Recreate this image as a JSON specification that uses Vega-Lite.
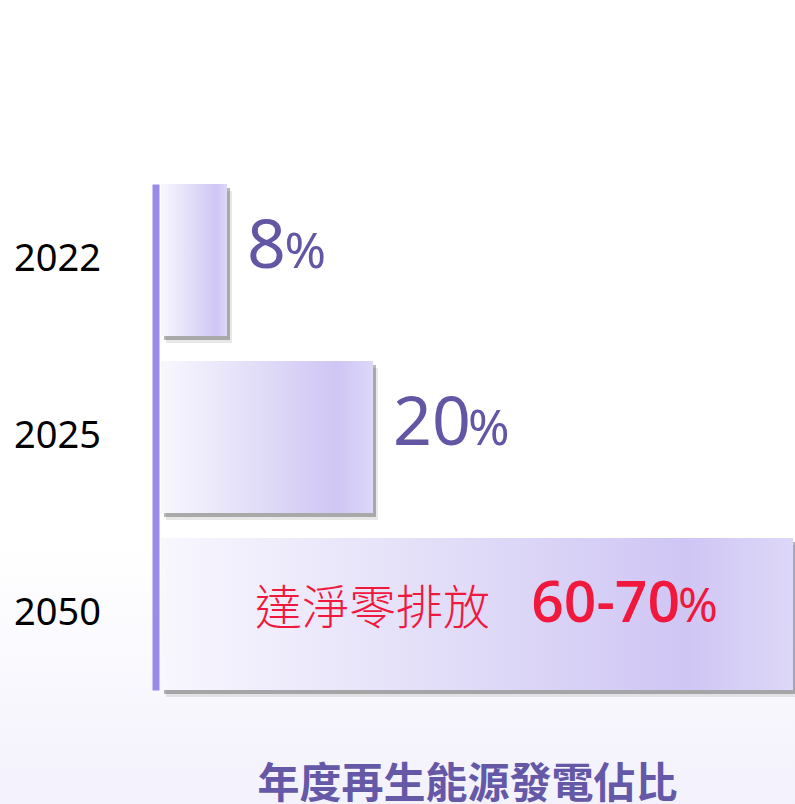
{
  "$schema": "https://vega.github.io/schema/vega-lite/v6.json",
  "width": 795,
  "height": 804,
  "autosize": {"type": "none"},
  "padding": 0,
  "background": "white",
  "config": {"view": {"stroke": null}},
  "title": {
    "text": "年度再生能源發電佔比",
    "orient": "bottom",
    "anchor": "middle",
    "offset": -6,
    "baseline": "alphabetic",
    "dx": 70,
    "font": "Noto Sans CJK TC",
    "fontSize": 42,
    "fontWeight": "bold",
    "color": "#6458a7"
  },
  "datasets": {
    "bars": [
      {"year": "2022", "value": 8, "num": "8", "note": ""},
      {"year": "2025", "value": 20, "num": "20", "note": ""},
      {"year": "2050", "value": 65, "num": "60-70", "note": "達淨零排放"}
    ]
  },
  "layer": [
    {
      "data": {"values": [{}]},
      "mark": {
        "type": "rect",
        "color": {
          "gradient": "linear",
          "x1": 0, "y1": 0, "x2": 0, "y2": 1,
          "stops": [
            {"offset": 0, "color": "#ffffff"},
            {"offset": 0.68, "color": "#ffffff"},
            {"offset": 1, "color": "#f3f1fc"}
          ]
        }
      },
      "encoding": {}
    },
    {
      "data": {"name": "bars"},
      "mark": {"type": "bar", "color": "#6e6e6e", "opacity": 0.16, "xOffset": 5, "x2Offset": 8, "yOffset": 7, "y2Offset": 9},
      "encoding": {
        "y": {
          "field": "year", "type": "nominal",
          "scale": {"range": [184, 690], "paddingInner": 0.141, "paddingOuter": 0},
          "axis": {
            "title": null,
            "offset": -155.5,
            "zindex": 2,
            "ticks": false,
            "tickSize": 0,
            "domainColor": "#9a8ae9",
            "domainWidth": 7,
            "labelPadding": 55,
            "labelFont": "Noto Sans",
            "labelFontSize": 38,
            "labelColor": "#000000",
            "grid": false
          }
        },
        "x": {"field": "value", "type": "quantitative", "scale": {"domain": [0, 8, 20, 65], "range": [161, 227, 373, 793], "nice": false}, "axis": null}
      }
    },
    {
      "data": {"name": "bars"},
      "mark": {"type": "bar", "color": "#4a4a4a", "opacity": 0.4, "xOffset": 3, "x2Offset": 4, "yOffset": 4, "y2Offset": 5},
      "encoding": {
        "y": {"field": "year", "type": "nominal"},
        "x": {"field": "value", "type": "quantitative"}
      }
    },
    {
      "data": {"name": "bars"},
      "mark": {
        "type": "bar",
        "color": {
          "gradient": "linear",
          "x1": 0, "y1": 0, "x2": 1, "y2": 0,
          "stops": [
            {"offset": 0, "color": "#f8f7fe"},
            {"offset": 0.45, "color": "#e2ddf8"},
            {"offset": 0.83, "color": "#cfc6f4"},
            {"offset": 1, "color": "#ddd7f8"}
          ]
        }
      },
      "encoding": {
        "y": {"field": "year", "type": "nominal"},
        "x": {"field": "value", "type": "quantitative"}
      }
    },
    {
      "data": {"name": "bars"},
      "transform": [{"filter": "datum.year != '2050'"}],
      "mark": {"type": "text", "align": "left", "baseline": "alphabetic", "dx": 20, "dy": 8, "font": "Noto Sans", "fontSize": 68, "color": "#6256a5"},
      "encoding": {
        "y": {"field": "year", "type": "nominal"},
        "x": {"field": "value", "type": "quantitative"},
        "text": {"field": "num"}
      }
    },
    {
      "data": {"name": "bars"},
      "transform": [{"filter": "datum.year != '2050'"}],
      "mark": {"type": "text", "align": "left", "baseline": "alphabetic", "dx": {"expr": "20 + length(datum.num) * 37.5"}, "dy": 8, "font": "Noto Sans", "fontSize": 50, "color": "#6256a5", "text": "%"},
      "encoding": {
        "y": {"field": "year", "type": "nominal"},
        "x": {"field": "value", "type": "quantitative"}
      }
    },
    {
      "data": {"name": "bars"},
      "transform": [{"filter": "datum.year == '2050'"}],
      "mark": {"type": "text", "align": "right", "baseline": "alphabetic", "dx": -113, "dy": 8, "font": "Open Sans", "fontSize": 57, "fontWeight": 600, "color": "#f0183d"},
      "encoding": {
        "y": {"field": "year", "type": "nominal"},
        "x": {"field": "value", "type": "quantitative"},
        "text": {"field": "num"}
      }
    },
    {
      "data": {"name": "bars"},
      "transform": [{"filter": "datum.year == '2050'"}],
      "mark": {"type": "text", "align": "right", "baseline": "alphabetic", "dx": -75, "dy": 8, "font": "Noto Sans", "fontSize": 48, "color": "#f0183d", "text": "%"},
      "encoding": {
        "y": {"field": "year", "type": "nominal"},
        "x": {"field": "value", "type": "quantitative"}
      }
    },
    {
      "data": {"name": "bars"},
      "transform": [{"filter": "datum.year == '2050'"}],
      "mark": {"type": "text", "align": "right", "baseline": "alphabetic", "dx": -303, "dy": 10, "font": "Noto Sans CJK TC", "fontSize": 47, "fontWeight": 300, "color": "#f0183d"},
      "encoding": {
        "y": {"field": "year", "type": "nominal"},
        "x": {"field": "value", "type": "quantitative"},
        "text": {"field": "note"}
      }
    }
  ]
}
